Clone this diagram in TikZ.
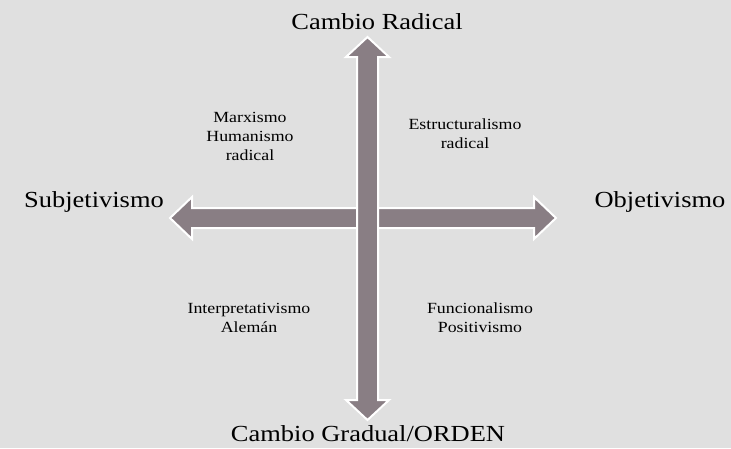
\documentclass[tikz,border=0pt]{standalone}
\usepackage{fontspec}
\setmainfont{Liberation Serif}[FakeStretch=1.15]
\begin{document}
\begin{tikzpicture}[x=1pt,y=-1pt]
\definecolor{bg}{HTML}{E0E0E0}
\definecolor{arr}{HTML}{897E84}
\tikzset{
  arrowshape/.style={fill=arr,draw=white,line width=2pt,line join=miter},
  big/.style={font=\fontsize{23}{26}\selectfont,inner sep=0pt,anchor=base},
  small/.style={font=\fontsize{15.5}{19}\selectfont,align=center,inner sep=0pt,anchor=center}
}
\fill[bg] (0,0) rectangle (731,448);
\useasboundingbox (0,0) rectangle (731,448);
% horizontal arrow
\draw[arrowshape] (170,218) -- (192,197) -- (192,208) -- (534,208) -- (534,197) -- (556,218)
  -- (534,239) -- (534,228) -- (192,228) -- (192,239) -- cycle;
% vertical arrow
\draw[arrowshape] (367.5,37) -- (389,57) -- (378,57) -- (378,400) -- (389,400) -- (367.5,420)
  -- (346,400) -- (357,400) -- (357,57) -- (346,57) -- cycle;
\node[big] (top) at (377,29) {Cambio Radical};
\node[big] (bot) at (368,441) {Cambio Gradual/ORDEN};
\node[big] (left) at (94,207) {Subjetivismo};
\node[big] (right) at (660,207) {Objetivismo};
\node[small] (q1) at (250,136) {Marxismo\\Humanismo\\radical};
\node[small] (q2) at (465,134) {Estructuralismo\\radical};
\node[small] (q3) at (249,318) {Interpretativismo\\Alemán};
\node[small] (q4) at (480,318) {Funcionalismo\\Positivismo};
\end{tikzpicture}
\end{document}
